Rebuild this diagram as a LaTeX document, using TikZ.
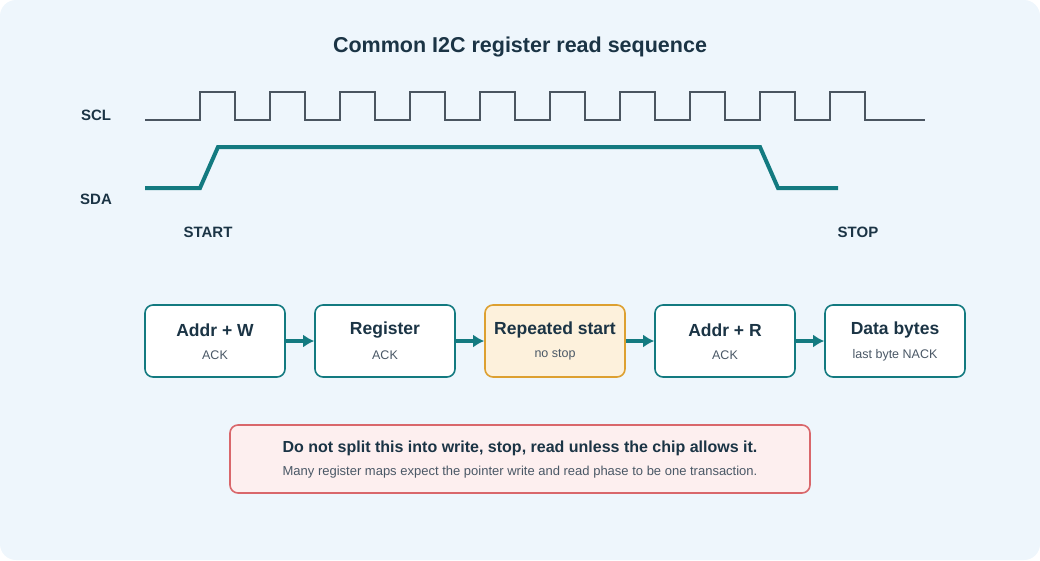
\documentclass[tikz,border=0pt]{standalone}
\usepackage{fontspec}
\setmainfont{Liberation Sans}
\usetikzlibrary{arrows.meta}
\definecolor{bg}{HTML}{EEF6FC}
\definecolor{ink}{HTML}{1B3445}
\definecolor{teal}{HTML}{137A80}
\definecolor{gray}{HTML}{4A5560}
\definecolor{sub}{HTML}{4A5866}
\definecolor{orfill}{HTML}{FDF1DC}
\definecolor{orline}{HTML}{DDA030}
\definecolor{rdfill}{HTML}{FDEFEF}
\definecolor{rdline}{HTML}{D9676B}
\tikzset{
 box/.style={draw=teal,line width=1.6pt,fill=white,rounded corners=8pt,minimum width=140pt,minimum height=72pt,inner sep=0pt},
 lab/.style={font=\bfseries\fontsize{15}{17}\selectfont,text=ink},
 ttl/.style={font=\bfseries\fontsize{17.5}{20}\selectfont,text=ink},
 sb/.style={font=\fontsize{12.5}{14}\selectfont,text=sub},
 arr/.style={-{Latex[length=11pt,width=13pt]},draw=teal,line width=3.5pt}
}
\begin{document}
\begin{tikzpicture}[x=1pt,y=-1pt]
\useasboundingbox (0,0) rectangle (1040,560);
\fill[bg,rounded corners=16pt] (0,0) rectangle (1040,560);
\node[font=\bfseries\fontsize{21.5}{24}\selectfont,text=ink] (title) at (520,47) {Common I2C register read sequence};
\node[lab] (scl) at (96,115) {SCL};
\node[lab] (sda) at (96,199) {SDA};
\draw[gray,line width=1.4pt] (145,120) -- (200,120)
 \foreach \i in {0,...,8} { -- ({200+70*\i},92) -- ({235+70*\i},92) -- ({235+70*\i},120) -- ({270+70*\i},120) }
 -- (830,92) -- (865,92) -- (865,120) -- (925,120);
\draw[teal,line width=4pt] (145,188) -- (200,188) -- (218,147) -- (760,147) -- (778,188) -- (838,188);
\node[lab] (start) at (208,232) {START};
\node[lab] (stop) at (858,232) {STOP};
\node[box] (b1) at (215,341) {};
\node[box] (b2) at (385,341) {};
\node[box,fill=orfill,draw=orline] (b3) at (555,341) {};
\node[box] (b4) at (725,341) {};
\node[box] (b5) at (895,341) {};
\foreach \n/\t/\s in {b1/Addr + W/ACK,b2/Register/ACK,b3/Repeated start/no stop,b4/Addr + R/ACK,b5/Data bytes/last byte NACK}{
 \node[ttl] at ([yshift=11pt]\n.center) {\t};
 \node[sb] at ([yshift=-14pt]\n.center) {\s};
}
\draw[arr] (b1.east) -- (b2.west);
\draw[arr] (b2.east) -- (b3.west);
\draw[arr] (b3.east) -- (b4.west);
\draw[arr] (b4.east) -- (b5.west);
\node[draw=rdline,fill=rdfill,line width=1.6pt,rounded corners=8pt,minimum width=580pt,minimum height=68pt] (note) at (520,459) {};
\node[font=\bfseries\fontsize{16}{18}\selectfont,text=ink] at (520,448) {Do not split this into write, stop, read unless the chip allows it.};
\node[font=\fontsize{13}{15}\selectfont,text=sub] at (520,472) {Many register maps expect the pointer write and read phase to be one transaction.};
\end{tikzpicture}
\end{document}
